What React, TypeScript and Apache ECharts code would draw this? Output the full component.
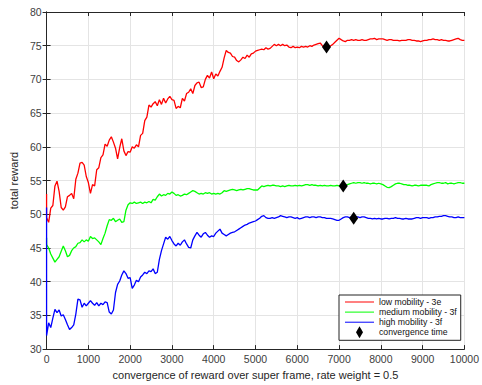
import React, { useEffect, useRef } from "react";
import * as echarts from "echarts";

const sampleStep = 50;
const xTicks = [0, 1000, 2000, 3000, 4000, 5000, 6000, 7000, 8000, 9000, 10000];
const seriesNames = ["low mobility - 3e", "medium mobility - 3f", "high mobility - 3f", "convergence time"];

const startValues = [53.0, 46.5, 51.0];

const lowMobility = [
  49.5, 48.8, 50.9, 51.3, 54.2, 54.9, 53.4, 51.0, 50.6, 51.1, 52.6, 52.8, 53.1, 52.3, 55.2, 56.1, 57.6, 57.7, 57.3, 55.6, 54.7,
  53.1, 54.4, 54.2, 56.6, 56.9, 58.4, 58.8, 60.4, 60.1, 61.0, 61.5, 60.7, 59.8, 58.2, 59.9, 61.2, 59.4, 58.7, 59.3, 59.2,
  60.0, 59.8, 60.3, 60.0, 61.7, 62.0, 63.9, 64.4, 66.2, 65.9, 66.4, 66.7, 66.1, 67.0, 66.3, 67.2, 66.5, 67.1, 67.5, 67.0,
  66.9, 65.7, 66.0, 65.8, 67.2, 66.8, 67.9, 68.1, 68.6, 67.9, 69.1, 69.5, 69.6, 68.8, 68.9, 70.0, 70.6, 70.2, 71.1, 70.1,
  70.8, 70.5, 71.2, 71.8, 73.2, 74.3, 74.0, 73.9, 73.4, 73.3, 72.8, 72.6, 72.9, 73.3, 73.1, 73.6, 73.3, 73.8, 73.9, 74.2,
  74.3, 74.4, 74.5, 74.4, 74.7, 74.5, 74.6, 74.9, 75.2, 75.0, 75.2, 75.0, 75.2, 75.0, 75.1, 74.8, 74.7, 74.9, 74.7, 74.8,
  74.7, 74.9, 74.8, 74.9, 74.8, 75.0, 74.9, 75.1, 75.2, 75.3, 75.4, 75.0, 74.7, 74.8, 74.8, 75.0, 75.2, 75.5, 75.8, 76.1,
  75.9, 75.7, 75.6, 75.8, 75.8, 75.9, 75.8, 75.9, 75.8, 75.8, 75.9, 75.8, 75.8, 75.9, 76.0, 76.0, 76.1, 75.9, 76.0, 76.0,
  76.0, 75.9, 75.8, 75.9, 75.9, 75.8, 75.8, 75.8, 75.7, 75.8, 75.8, 75.8, 75.9, 75.9, 75.8, 75.8, 75.7, 75.7, 75.6, 75.7,
  75.8, 75.8, 75.9, 75.9, 76.0, 75.9, 75.9, 75.8, 75.9, 75.8, 75.8, 75.7, 75.7, 75.8, 75.9, 76.0, 76.1, 75.9, 75.8, 75.8,
];

const mediumMobility = [
  45.5, 45.0, 44.1, 43.5, 42.9, 43.3, 43.7, 44.5, 45.3, 44.6, 43.7, 43.9, 44.6, 45.0, 45.2, 45.7, 45.8, 46.2, 45.9, 46.2, 46.0,
  46.7, 46.4, 46.5, 46.2, 45.9, 45.5, 46.4, 47.2, 48.3, 49.2, 49.1, 49.4, 48.9, 49.1, 49.3, 48.8, 48.9, 50.6, 51.4, 51.7,
  51.6, 51.8, 51.6, 51.7, 51.8, 51.6, 51.8, 51.7, 51.9, 51.7, 52.2, 52.1, 52.6, 53.0, 52.7, 52.9, 52.8, 53.1, 53.0, 53.3,
  53.1, 52.8, 52.9, 52.7, 52.8, 53.0, 52.9, 53.1, 53.3, 53.5, 53.4, 53.2, 53.0, 53.1, 53.0, 53.2, 53.1, 53.2, 53.0, 53.1,
  53.0, 53.1, 53.0, 53.2, 53.5, 53.4, 53.5, 53.6, 53.7, 53.6, 53.5, 53.6, 53.7, 53.6, 53.7, 53.8, 53.8, 53.7, 53.6, 53.6,
  53.6, 53.9, 54.2, 54.1, 54.2, 54.3, 54.2, 54.3, 54.3, 54.2, 54.2, 54.1, 54.2, 54.1, 54.2, 54.3, 54.2, 54.2, 54.3, 54.2,
  54.3, 54.2, 54.3, 54.4, 54.4, 54.3, 54.4, 54.3, 54.3, 54.2, 54.3, 54.2, 54.3, 54.2, 54.2, 54.3, 54.2, 54.2, 54.3, 54.2,
  54.2, 54.2, 54.3, 54.4, 54.5, 54.6, 54.7, 54.6, 54.7, 54.7, 54.6, 54.7, 54.6, 54.6, 54.5, 54.6, 54.6, 54.5, 54.6, 54.5,
  54.4, 54.2, 54.0, 53.95, 54.1, 54.3, 54.5, 54.6, 54.6, 54.5, 54.4, 54.4, 54.3, 54.3, 54.2, 54.3, 54.3, 54.2, 54.3, 54.3,
  54.3, 54.3, 54.2, 54.4, 54.5, 54.6, 54.7, 54.7, 54.6, 54.6, 54.7, 54.5, 54.6, 54.6, 54.5, 54.6, 54.7, 54.7, 54.6, 54.6,
];

const highMobility = [
  32.0, 33.9, 33.2, 34.6, 35.9, 35.4, 35.8, 34.9, 35.1, 34.4, 33.6, 32.9, 33.2, 33.6, 35.2, 37.4, 37.3, 36.2, 36.8, 36.4, 36.8,
  37.2, 36.8, 36.5, 36.9, 36.4, 36.8, 36.6, 37.0, 36.9, 35.5, 35.2, 35.8, 38.4, 39.6, 40.1, 41.0, 41.6, 41.2, 40.5, 40.6,
  39.0, 39.5, 40.2, 40.0, 40.7, 41.0, 41.4, 41.2, 41.6, 41.5, 41.9, 41.2, 41.4, 43.3, 44.6, 45.6, 46.6, 46.3, 46.7, 46.1,
  45.6, 45.3, 45.7, 45.4, 45.9, 46.2, 45.6, 45.1, 45.0, 46.2, 46.8, 47.3, 46.9, 46.6, 47.1, 47.3, 46.9, 46.6, 46.8, 46.7,
  47.2, 47.5, 47.8, 47.2, 47.0, 46.8, 47.0, 47.2, 47.3, 47.4, 47.6, 47.8, 48.0, 48.2, 48.4, 48.5, 48.7, 48.8, 48.9, 49.0,
  49.2, 49.4, 49.7, 49.8, 49.5, 49.4, 49.4, 49.5, 49.4, 49.5, 49.6, 49.8, 49.7, 49.6, 49.5, 49.6, 49.6, 49.5, 49.4, 49.5,
  49.3, 49.4, 49.5, 49.6, 49.6, 49.5, 49.6, 49.6, 49.5, 49.6, 49.6, 49.5, 49.5, 49.4, 49.4, 49.4, 49.3, 49.2, 49.1, 49.1,
  49.3, 49.5, 49.6, 49.6, 49.5, 49.6, 49.5, 49.6, 49.6, 49.5, 49.6, 49.6, 49.5, 49.4, 49.4, 49.3, 49.4, 49.3, 49.4, 49.3,
  49.3, 49.4, 49.4, 49.3, 49.4, 49.4, 49.5, 49.4, 49.4, 49.3, 49.3, 49.4, 49.3, 49.3, 49.3, 49.4, 49.5, 49.5, 49.4, 49.5,
  49.5, 49.5, 49.4, 49.5, 49.5, 49.6, 49.6, 49.7, 49.7, 49.8, 49.8, 49.7, 49.6, 49.6, 49.5, 49.5, 49.6, 49.5, 49.5, 49.5,
];

const convergenceX = [6700, 7100, 7350];
const convergenceY = [74.8, 54.2, 49.4];

const FONT = "'Liberation Sans', Arial, Helvetica, sans-serif";
const LINE_ICON = "path://M0,5.5H29V6.5H0Z";
const DIAMOND_ICON = "path://M0,-6L3.5,0L0,6L-3.5,0Z";

function toPoints(start: number, values: number[]) {
  const pts: number[][] = [[0, start]];
  values.forEach((v, i) => pts.push([i * sampleStep, v]));
  return pts;
}

export default function App() {
  const ref = useRef<HTMLDivElement>(null);
  useEffect(() => {
    if (!ref.current) return;
    const chart = echarts.init(ref.current, null, { renderer: "svg" });
    const axisColor = "#262626";
    const baseX = {
      type: "value" as const,
      min: xTicks[0],
      max: xTicks[xTicks.length - 1],
      interval: xTicks[1] - xTicks[0],
    };
    const baseY = { type: "value" as const, min: 30, max: 80, interval: 5 };
    chart.setOption({
      animation: false,
      backgroundColor: "#fff",
      textStyle: { fontFamily: FONT },
      grid: { left: 42, right: 11, top: 12, bottom: 35, containLabel: false },
      xAxis: [
        {
          ...baseX,
          position: "bottom",
          name: "convergence of reward over super frame, rate weight = 0.5",
          nameLocation: "middle",
          nameGap: 16,
          nameTextStyle: { fontSize: 11, color: axisColor, fontFamily: FONT },
          axisLine: { show: true, onZero: false, lineStyle: { color: axisColor, width: 1 } },
          axisTick: { show: true, inside: true, length: 4, lineStyle: { color: axisColor } },
          axisLabel: {
            fontSize: 10.5,
            color: "#404040",
            margin: 4,
            fontFamily: FONT,
            formatter: (v: number) => String(v),
          },
          splitLine: { show: true, lineStyle: { color: "#e4e4e4", width: 1 } },
        },
        {
          ...baseX,
          position: "top",
          axisLine: { show: true, lineStyle: { color: axisColor, width: 1 } },
          axisTick: { show: true, inside: true, length: 4, lineStyle: { color: axisColor } },
          axisLabel: { show: false },
          splitLine: { show: false },
        },
      ],
      yAxis: [
        {
          ...baseY,
          position: "left",
          name: "total reward",
          nameLocation: "middle",
          nameGap: 20,
          nameTextStyle: { fontSize: 11, color: axisColor, fontFamily: FONT },
          axisLine: { show: true, onZero: false, lineStyle: { color: axisColor, width: 1 } },
          axisTick: { show: true, inside: true, length: 4, lineStyle: { color: axisColor } },
          axisLabel: { fontSize: 10.5, color: "#404040", margin: 5, fontFamily: FONT },
          splitLine: { show: true, lineStyle: { color: "#e4e4e4", width: 1 } },
        },
        {
          ...baseY,
          position: "right",
          axisLine: { show: true, lineStyle: { color: axisColor, width: 1 } },
          axisTick: { show: true, inside: true, length: 4, lineStyle: { color: axisColor } },
          axisLabel: { show: false },
          splitLine: { show: false },
        },
      ],
      legend: {
        orient: "vertical",
        left: 339,
        top: 295,
        padding: [1, 4, 2, 6],
        itemWidth: 29,
        itemHeight: 12,
        itemGap: -1.9,
        borderColor: "#222",
        borderWidth: 1,
        backgroundColor: "#fff",
        textStyle: { fontSize: 8.7, color: "#111", lineHeight: 12, fontFamily: FONT },
        data: [
          { name: seriesNames[0], icon: LINE_ICON },
          { name: seriesNames[1], icon: LINE_ICON },
          { name: seriesNames[2], icon: LINE_ICON },
          { name: seriesNames[3], icon: DIAMOND_ICON },
        ],
      },
      series: [
        {
          name: seriesNames[0],
          type: "line",
          data: toPoints(startValues[0], lowMobility),
          symbol: "none",
          lineStyle: { color: "#ff0000", width: 1.3 },
          itemStyle: { color: "#ff0000" },
          z: 3,
        },
        {
          name: seriesNames[1],
          type: "line",
          data: toPoints(startValues[1], mediumMobility),
          symbol: "none",
          lineStyle: { color: "#00ff00", width: 1.3 },
          itemStyle: { color: "#00ff00" },
          z: 3,
        },
        {
          name: seriesNames[2],
          type: "line",
          data: toPoints(startValues[2], highMobility),
          symbol: "none",
          lineStyle: { color: "#0000ff", width: 1.3 },
          itemStyle: { color: "#0000ff" },
          z: 3,
        },
        {
          name: seriesNames[3],
          type: "scatter",
          data: convergenceX.map((x, i) => [x, convergenceY[i]]),
          symbol: "diamond",
          symbolSize: [9, 13],
          itemStyle: { color: "#000", opacity: 1 },
          z: 5,
        },
      ],
    });
    return () => chart.dispose();
  }, []);
  return (
    <div
      ref={ref}
      style={{ width: 482, height: 385, position: "fixed", left: 0, top: 0 }}
    />
  );
}
